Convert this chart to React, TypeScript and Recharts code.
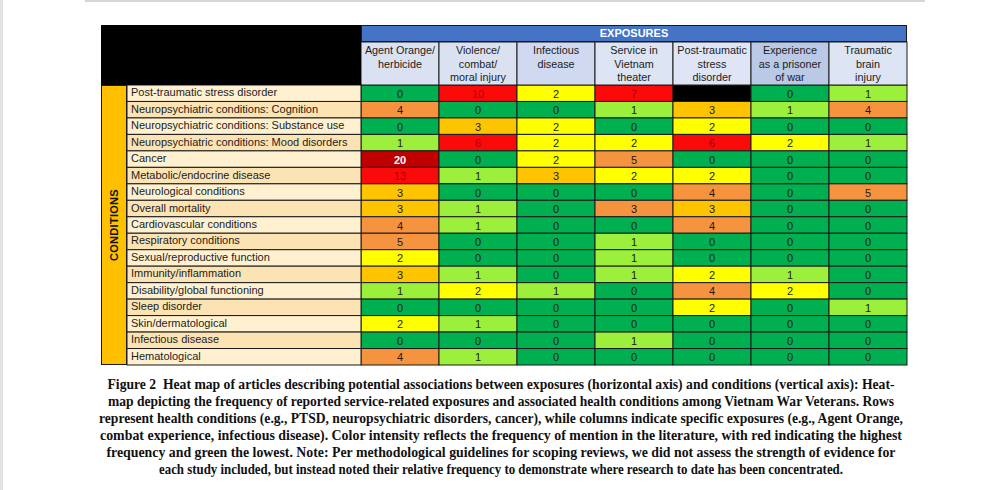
import { ScatterChart, Scatter, XAxis, YAxis } from 'recharts'

const exposures = [
    'Agent Orange/\nherbicide',
    'Violence/\ncombat/\nmoral injury',
    'Infectious\ndisease',
    'Service in\nVietnam\ntheater',
    'Post-traumatic\nstress\ndisorder',
    'Experience\nas a prisoner\nof war',
    'Traumatic\nbrain\ninjury',
]

const conditions = [
    'Post-traumatic stress disorder',
    'Neuropsychiatric conditions: Cognition',
    'Neuropsychiatric conditions: Substance use',
    'Neuropsychiatric conditions: Mood disorders',
    'Cancer',
    'Metabolic/endocrine disease',
    'Neurological conditions',
    'Overall mortality',
    'Cardiovascular conditions',
    'Respiratory conditions',
    'Sexual/reproductive function',
    'Immunity/inflammation',
    'Disability/global functioning',
    'Sleep disorder',
    'Skin/dermatological',
    'Infectious disease',
    'Hematological',
]

// one array per exposure column, rows in the order of `conditions`
const agentOrange = [0, 4, 0, 1, 20, 13, 3, 3, 4, 5, 2, 3, 1, 0, 2, 0, 4]
const violence = [10, 0, 3, 6, 0, 1, 0, 1, 1, 0, 0, 1, 2, 0, 1, 0, 1]
const infectious = [2, 0, 2, 2, 2, 3, 0, 0, 0, 0, 0, 0, 1, 0, 0, 0, 0]
const serviceVietnam = [7, 1, 0, 2, 5, 2, 0, 3, 0, 1, 1, 1, 0, 0, 0, 1, 0]
const ptsd = [null, 3, 2, 6, 0, 2, 4, 3, 4, 0, 0, 2, 4, 2, 0, 0, 0]
const prisonerOfWar = [0, 1, 0, 2, 0, 0, 0, 0, 0, 0, 0, 1, 2, 0, 0, 0, 0]
const tbi = [1, 4, 0, 1, 0, 0, 5, 0, 0, 0, 0, 0, 0, 1, 0, 0, 0]

const columns = [agentOrange, violence, infectious, serviceVietnam, ptsd, prisonerOfWar, tbi]

// cells the source sheet coloured orange although their value is 3
const orangeCells = ['3-7']

const captionLines = [
    'Figure 2\u00a0\u00a0Heat map of articles describing potential associations between exposures (horizontal axis) and conditions (vertical axis): Heat-',
    'map depicting the frequency of reported service-related exposures and associated health conditions among Vietnam War Veterans. Rows',
    'represent health conditions (e.g., PTSD, neuropsychiatric disorders, cancer), while columns indicate specific exposures (e.g., Agent Orange,',
    'combat experience, infectious disease). Color intensity reflects the frequency of mention in the literature, with red indicating the highest',
    'frequency and green the lowest. Note: Per methodological guidelines for scoping reviews, we did not assess the strength of evidence for',
    'each study included, but instead noted their relative frequency to demonstrate where research to date has been concentrated.',
]
const captionWidths = [787, 786, 804, 802, 789, 684]

const cells = columns.flatMap((col, x) => col.map((value, y) => ({ x, y, value })))

const CHART_W = 807
const CHART_H = 342
const MARGIN = { top: 17, left: 26, right: 1, bottom: 2 }
const HEADER_H = 43
const LABEL_W = 234
const CELL_W = (CHART_W - MARGIN.left - MARGIN.right - LABEL_W) / exposures.length
const CELL_H = (CHART_H - MARGIN.top - MARGIN.bottom - HEADER_H) / conditions.length
const FONT = '"Liberation Sans", Arial, sans-serif'

const headerFills = ['#dae2f2', '#dae2f2', '#d0d9ef', '#dde4f3', '#dfe5f4', '#b9c9e6', '#dde4f3']

function cellFill(value: number | null, key: string) {
    if (value === null) return '#000000'
    if (orangeCells.includes(key)) return '#f5933f'
    if (value === 0) return '#00b050'
    if (value === 1) return '#9cef3a'
    if (value === 2) return '#ffff00'
    if (value === 3) return '#ffc400'
    if (value <= 5) return '#f5933f'
    if (value <= 13) return '#fb0a0a'
    return '#c00000'
}

const HeatCell = (props: any) => {
    const { cx, cy, payload } = props
    const { value, x, y } = payload
    const fill = cellFill(value, `${x}-${y}`)
    let textColor = '#1c1c1c'
    if (value >= 6) textColor = '#b00000'
    if (value >= 20) textColor = '#ffffff'
    return (
        <g>
            <rect x={cx - CELL_W / 2} y={cy - CELL_H / 2} width={CELL_W} height={CELL_H} fill={fill} stroke="#1a1a1a" strokeWidth={1} />
            {value !== null && (
                <text x={cx} y={cy + 4.5} textAnchor="middle" fontSize={11} fontFamily={FONT}
                    fontWeight={value >= 20 ? 'bold' : 'normal'} fill={textColor}>
                    {value}
                </text>
            )}
        </g>
    )
}

const HeaderTick = (props: any) => {
    const { x, payload } = props
    const lines = exposures[payload.value].split('\n')
    return (
        <g>
            <rect x={x - CELL_W / 2} y={MARGIN.top} width={CELL_W} height={HEADER_H}
                fill={headerFills[payload.value]} stroke="#1a1a1a" strokeWidth={1} />
            {lines.map((line, i) => (
                <text key={i} x={x} y={MARGIN.top + 12 + i * 13.5} textAnchor="middle" fontSize={10.8} fontFamily={FONT} fill="#1c1c1c">
                    {line}
                </text>
            ))}
        </g>
    )
}

const RowTick = (props: any) => {
    const { y, payload } = props
    const i = payload.value
    return (
        <g>
            <rect x={MARGIN.left} y={y - CELL_H / 2} width={LABEL_W} height={CELL_H}
                fill={i % 2 === 0 ? '#fff1d0' : '#fce3b3'} stroke="#1a1a1a" strokeWidth={1} />
            <text x={MARGIN.left + 4} y={y + 3} fontSize={11} fontFamily={FONT} fill="#1c1c1c">
                {conditions[i]}
            </text>
        </g>
    )
}

export default function App() {
    const left = 101
    const top = 25
    return (
        <div style={{ position: 'absolute', left: 0, top: 0, width: 1000, height: 490, background: '#ffffff', overflow: 'hidden' }}>
            <div style={{ position: 'absolute', left: 0, top: 0, width: 3, height: 490, background: '#e2e2e2' }} />
            <div style={{ position: 'absolute', left: 85, top: 0, width: 840, height: 2, background: '#d6d6d6' }} />

            <div style={{ position: 'absolute', left, top }}>
                <ScatterChart width={CHART_W} height={CHART_H} margin={MARGIN}>
                    <XAxis type="number" dataKey="x" orientation="top" domain={[-0.5, exposures.length - 0.5]}
                        ticks={exposures.map((_, i) => i)} interval={0} height={HEADER_H}
                        axisLine={false} tickLine={false} tick={HeaderTick} />
                    <YAxis type="number" dataKey="y" reversed domain={[-0.5, conditions.length - 0.5]}
                        ticks={conditions.map((_, i) => i)} interval={0} width={LABEL_W}
                        axisLine={false} tickLine={false} tick={RowTick} />
                    <Scatter data={cells} shape={HeatCell} isAnimationActive={false} />
                </ScatterChart>
            </div>

            {/* black corner, EXPOSURES banner, CONDITIONS strip */}
            <div style={{ position: 'absolute', left, top, width: MARGIN.left + LABEL_W, height: MARGIN.top + HEADER_H, background: '#000' }} />
            <div style={{
                position: 'absolute', left: left + MARGIN.left + LABEL_W, top, width: CELL_W * exposures.length, height: MARGIN.top,
                background: '#4573c5', color: '#fff', fontFamily: FONT, fontWeight: 'bold', fontSize: 11,
                textAlign: 'center', lineHeight: `${MARGIN.top - 2}px`, boxSizing: 'border-box', border: '1px solid #1a1a1a',
            }}>EXPOSURES</div>
            <div style={{
                position: 'absolute', left, top: top + MARGIN.top + HEADER_H, width: MARGIN.left, height: CELL_H * conditions.length,
                background: '#ffc000', boxSizing: 'border-box', border: '1px solid #1a1a1a',
                display: 'flex', alignItems: 'center', justifyContent: 'center',
            }}>
                <span style={{ writingMode: 'vertical-rl', transform: 'rotate(180deg)', fontFamily: FONT, fontWeight: 'bold', fontSize: 11, color: '#111', letterSpacing: 0.3 }}>
                    CONDITIONS
                </span>
            </div>

            <svg style={{ position: 'absolute', left: 0, top: 370 }} width={1000} height={115}>
                {captionLines.map((line, i) => (
                    <text key={i} x={501} y={18.5 + i * 17} textAnchor="middle" textLength={captionWidths[i]} lengthAdjust="spacingAndGlyphs"
                        fontFamily='"Liberation Serif", "Times New Roman", serif' fontWeight="bold" fontSize={14.5} fill="#111">
                        {line}
                    </text>
                ))}
            </svg>
        </div>
    )
}
